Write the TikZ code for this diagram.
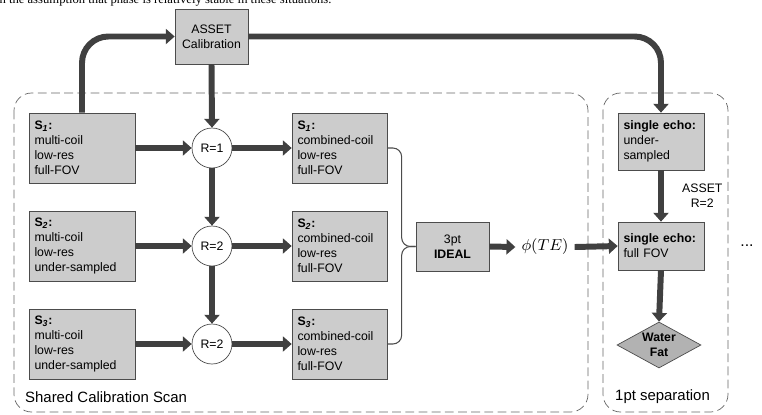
\documentclass[tikz,border=0pt]{standalone}
\usepackage{fontspec}
\setmainfont{Liberation Sans}
\newfontfamily\paperfont{Liberation Serif}
\usetikzlibrary{positioning,arrows.meta,calc,shapes.geometric}
\newcommand{\Sname}[1]{\textbf{S\textsubscript{\textit{#1}}:}}

\begin{document}
\begin{tikzpicture}[
    x=0.02cm, y=-0.02cm,
    font=\fontsize{7}{8.5}\selectfont,
    box/.style={draw=black!70, fill=black!20, align=left, inner xsep=0.11cm, inner ysep=2pt},
    scan/.style={box, text width=1.9cm, minimum height=1.4cm},
    comb/.style={box, text width=1.68cm, minimum height=1.4cm},
    echo/.style={box, text width=1.5cm},
    rnode/.style={circle, draw=black!70, fill=white, minimum size=0.8cm, inner sep=0pt},
    arr/.style={-{Triangle[length=5pt, width=8.5pt]}, line width=3.4pt, draw=black!75},
    group/.style={draw=black!60, dash pattern=on 5pt off 2.5pt, rounded corners=10pt},
    brace/.style={draw=black!70, semithick, rounded corners=5pt},
    lbl/.style={font=\fontsize{8.5}{10}\selectfont, anchor=base west}
]
\useasboundingbox (0,0) rectangle (762,414);

% Text of the page above
\node[font=\paperfont\fontsize{7.2}{8}\selectfont, anchor=base west, inner sep=0pt] (pagetext) at (-17,3)
    {with the assumption that phase is relatively stable in these situations.};

% Groups
\draw[group] (14,93) rectangle (588,412);
\draw[group] (603,93) rectangle (728,412);
\node[lbl] (sharedlbl) at (19,402) {Shared Calibration Scan};
\node[lbl] (seplbl) at (609,400) {1pt separation};

% Calibration
\node[box, align=center, minimum width=1.46cm, minimum height=1.1cm] (asset) at (211.5,36.5) {ASSET\\Calibration};

% Scans
\node[scan] (scan1) at (82,148) {\Sname{1}\\multi-coil\\low-res\\full-FOV};
\node[scan] (scan2) at (82,246) {\Sname{2}\\multi-coil\\low-res\\under-sampled};
\node[scan] (scan3) at (82,344) {\Sname{3}\\multi-coil\\low-res\\under-sampled};

\node[rnode] (r1) at (212,148) {R=1};
\node[rnode] (r2) at (212,246) {R=2};
\node[rnode] (r3) at (212,344) {R=2};

\node[comb] (comb1) at (339.5,148) {\Sname{1}\\combined-coil\\low-res\\full-FOV};
\node[comb] (comb2) at (339.5,246) {\Sname{2}\\combined-coil\\low-res\\full-FOV};
\node[comb] (comb3) at (339.5,344) {\Sname{3}\\combined-coil\\low-res\\full-FOV};

% IDEAL
\node[box, align=center, minimum width=1.46cm, minimum height=0.98cm] (ideal) at (452.5,246.5) {3pt\\\textbf{IDEAL}};
\node[font=\fontsize{9}{10}\selectfont] (phi) at (545,247) {$\phi(TE)$};

% 1pt separation
\node[echo, minimum height=1.14cm] (echo1) at (661,141.5) {\textbf{single echo:}\\under-\\sampled};
\node[echo, minimum height=0.96cm] (echo2) at (661,246) {\textbf{single echo:}\\full FOV};
\node[diamond, draw=black!70, fill=black!30, aspect=1.8, inner sep=0pt, minimum width=1.68cm, minimum height=0.92cm, align=center] (wf) at (659,345) {\textbf{Water}\\\textbf{Fat}};
\node[font=\fontsize{9}{10}\selectfont] (more) at (747,246) {...};

% Arrows
\draw[arr, rounded corners=15pt] (scan1.north) |- (asset.west);
\draw[arr, rounded corners=15pt] (asset.east) -| (echo1.north);
\draw[arr] (asset.south) -- (r1.north);
\foreach \i in {1,2,3} {
    \draw[arr] (scan\i.east) -- (r\i.west);
    \draw[arr] (r\i.east) -- (comb\i.west);
}
\draw[arr] (r1.south) -- (r2.north);
\draw[arr] (r2.south) -- (r3.north);
\draw[brace] (comb1.east) -| ($(ideal.west)+(-14,0)$) -- (ideal.west);
\draw[brace] (comb3.east) -| ($(ideal.west)+(-14,0)$) -- (ideal.west);
\draw[arr] (ideal.east) -- (phi.west);
\draw[arr] (phi.east) -- (echo2.west);
\draw[arr] (echo1.south) -- node[right=7pt, align=center] {ASSET\\R=2} (echo2.north);
\draw[arr] (echo2.south) -- (wf.north);

\end{tikzpicture}
\end{document}
